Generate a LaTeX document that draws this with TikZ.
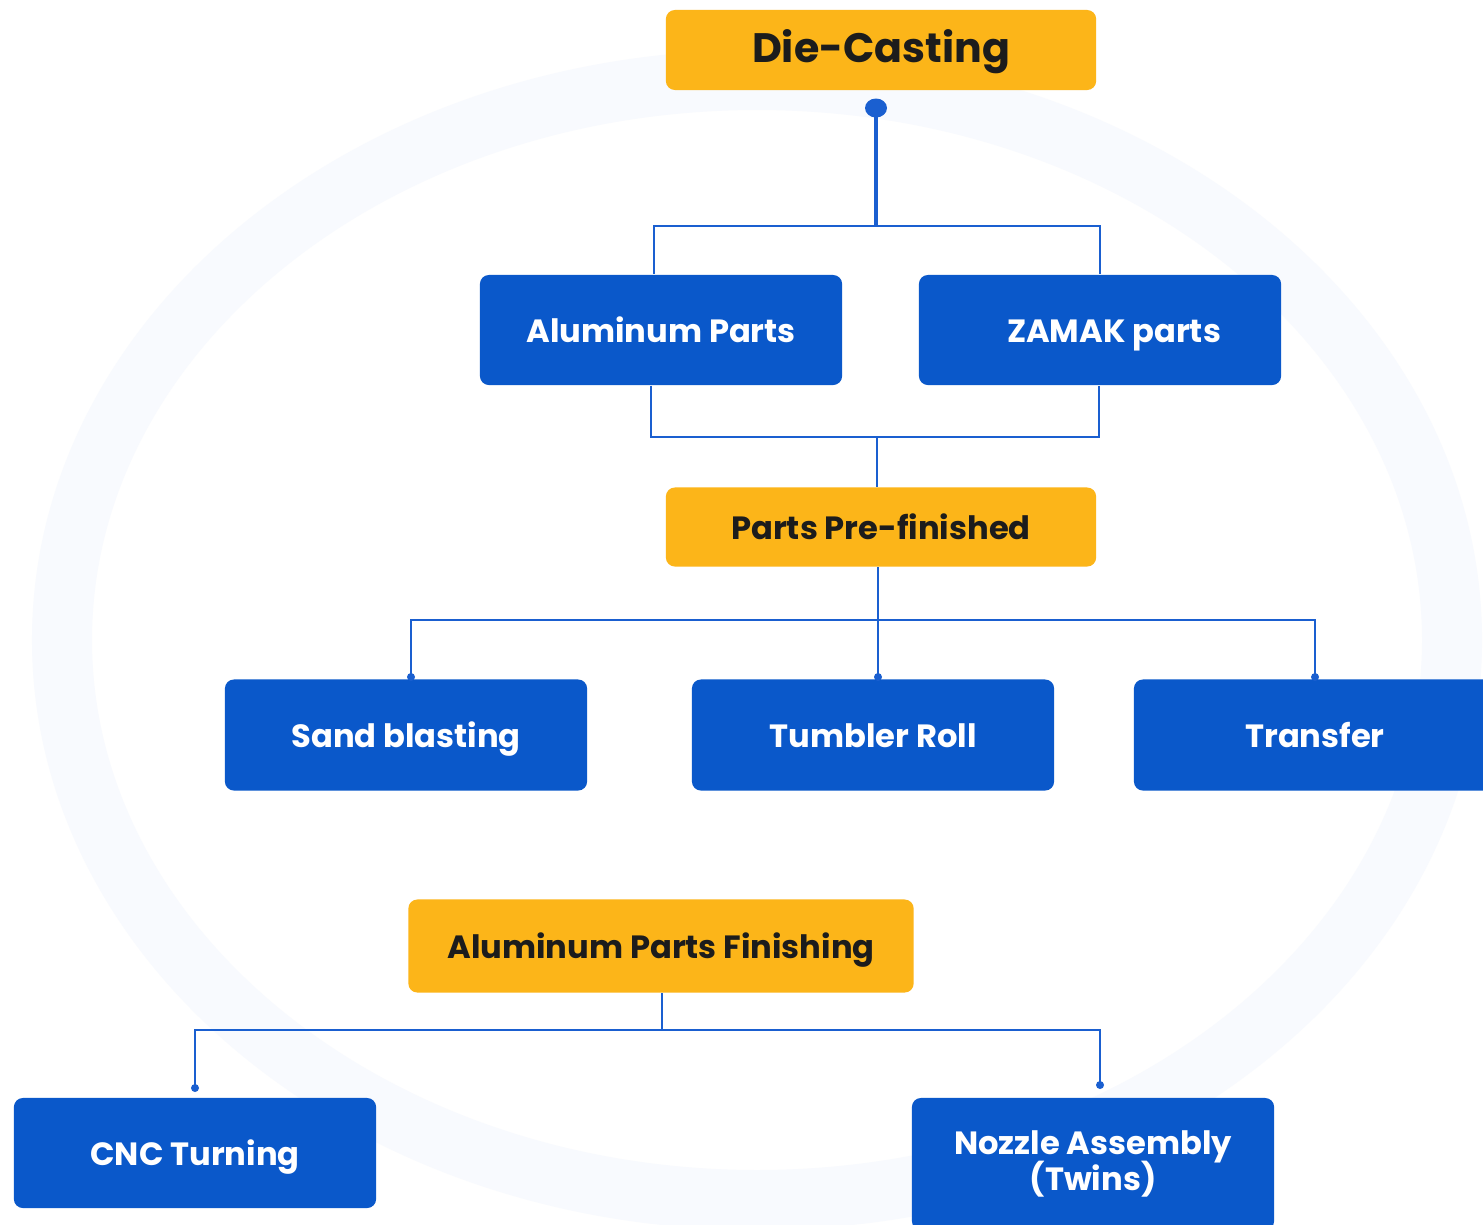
\documentclass[tikz,border=0pt]{standalone}
\usepackage{fontspec}
\setmainfont{Poppins}
\definecolor{dyel}{HTML}{FCB519}
\definecolor{dblue}{HTML}{0A58CA}
\definecolor{lblue}{HTML}{1A5FD0}
\definecolor{wm}{HTML}{F8FAFE}
\definecolor{ink}{HTML}{1C1C1C}
\begin{document}
\begin{tikzpicture}[x=0.01cm,y=-0.01cm,
  ybox/.style={fill=dyel, rounded corners=0.09cm, text=ink, font=\bfseries\fontsize{9.15}{11}\selectfont, inner sep=0pt, text height=0.72em, text depth=0pt},
  bbox/.style={fill=dblue, rounded corners=0.09cm, text=white, font=\bfseries\fontsize{9.15}{11}\selectfont, minimum width=3.62cm, minimum height=1.10cm, align=center, inner sep=0pt},
  one/.style={text height=0.72em, text depth=0pt},
  conn/.style={draw=lblue, line width=0.8pt},
  tip/.style={circle, fill=lblue, inner sep=0pt, minimum size=0.08cm},
]
\clip (0,0) rectangle (1483,1224);
\fill[white] (0,0) rectangle (1483,1224);
% faint watermark
\draw[wm, line width=0.6cm] (757,640) ellipse [x radius=695, y radius=560];

% top
\node[ybox, minimum width=4.30cm, minimum height=0.80cm, font=\bfseries\fontsize{11.7}{14}\selectfont] (dc) at (881,50) {Die-Casting};
\coordinate (dcdot) at (876,108);
\coordinate (j1) at (876,226);
\node[bbox, one] (al) at (661,330) {Aluminum Parts};
\node[bbox, one] (za) at (1100,330) {\hspace*{0.28cm}ZAMAK parts};
\draw[draw=lblue, line width=1.3pt] (dcdot) -- (j1);
\fill[lblue] (dcdot) ellipse [x radius=11, y radius=9.5];
\draw[conn] (j1) -| ([xshift=-0.07cm]al.north);
\draw[conn] (j1) -| (za.north);

% pre-finished
\coordinate (j2) at (877,437);
\node[ybox, minimum width=4.30cm, minimum height=0.79cm] (pp) at (881,527) {Parts Pre-finished};
\draw[conn] ([xshift=-0.10cm]al.south) |- (j2) -| ([xshift=-0.01cm]za.south);
\draw[conn] (j2) -- (j2 |- pp.north);

% second level
\node[bbox, one, minimum height=1.11cm] (sb) at (406,735) {Sand blasting};
\node[bbox, one, minimum height=1.11cm] (tr) at (873,735) {Tumbler Roll};
\node[bbox, one, minimum height=1.11cm] (tf) at (1315,735) {Transfer};
\coordinate (j3) at (878,620);
\coordinate (sbt) at (411,677);
\coordinate (trt) at (878,677);
\coordinate (tft) at (1315,677);
\draw[conn] (pp.south -| j3) -- (j3) -- (trt);
\draw[conn] (j3) -| (sbt);
\draw[conn] (j3) -| (tft);
\node[tip] at (sbt) {};
\node[tip] at (trt) {};
\node[tip] at (tft) {};

% finishing
\node[ybox, minimum width=5.05cm, minimum height=0.93cm] (apf) at (661,946) {Aluminum Parts Finishing};
\coordinate (j4) at (662,1030);
\node[bbox, one] (cnc) at (195,1153) {CNC Turning};
\node[bbox, minimum height=1.32cm] (nz) at (1093,1164) {Nozzle Assembly\\[-1pt](Twins)};
\coordinate (cnct) at (195,1088);
\coordinate (nzt) at (1100,1085);
\draw[conn] (apf.south -| j4) -- (j4);
\draw[conn] (j4) -| (cnct);
\draw[conn] (j4) -| (nzt);
\node[tip] at (cnct) {};
\node[tip] at (nzt) {};
\end{tikzpicture}
\end{document}
